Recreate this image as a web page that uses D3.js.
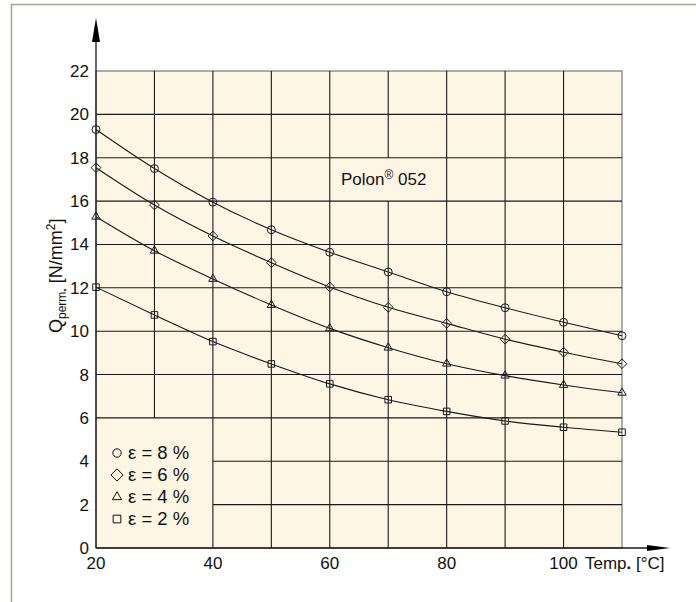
<!DOCTYPE html>
<html>
<head>
<meta charset="utf-8">
<script src="https://cdn.jsdelivr.net/npm/d3@7"></script>
<style>
  html, body { margin: 0; padding: 0; background: #fff; }
  svg { display: block; font-family: "Liberation Sans", Arial, sans-serif; }
</style>
</head>
<body>
<div id="root"><svg id="chart" width="696" height="602"></svg></div>
<script>
const temps = [20, 30, 40, 50, 60, 70, 80, 90, 100, 110];
const eps8 = [19.3, 17.5, 15.95, 14.68, 13.64, 12.73, 11.82, 11.08, 10.41, 9.79];
const eps6 = [17.54, 15.82, 14.39, 13.16, 12.04, 11.1, 10.36, 9.63, 9.03, 8.5];
const eps4 = [15.28, 13.71, 12.41, 11.21, 10.13, 9.24, 8.5, 7.95, 7.52, 7.16];
const eps2 = [12.03, 10.75, 9.52, 8.49, 7.57, 6.84, 6.3, 5.86, 5.57, 5.34];
const seriesNames = ['ε = 8 %', 'ε = 6 %', 'ε = 4 %', 'ε = 2 %'];
const xTicks = [20, 40, 60, 80, 100];
const yTicks = [0, 2, 4, 6, 8, 10, 12, 14, 16, 18, 20, 22];
const xGrid = [30, 40, 50, 60, 70, 80, 90, 100];
const yGrid = [2, 4, 6, 8, 10, 12, 14, 16, 18, 20];

function drawChart() {
  const svg = d3.select('#chart');
  const plotLeft = 96;
  const plotRight = 622;
  const plotTop = 71;
  const plotBottom = 548;
  const ink = '#1a1a1a';

  const x = d3.scaleLinear().domain([20, 110]).range([plotLeft, plotRight]);
  const y = d3.scaleLinear().domain([0, 22]).range([plotBottom, plotTop]);

  // outer frame (top + left only)
  svg.append('path')
    .attr('d', 'M11.5,602 V4.5 H696')
    .attr('fill', 'none')
    .attr('stroke', '#aaa195')
    .attr('stroke-width', 1.5);

  // plot background
  svg.append('rect')
    .attr('x', plotLeft).attr('y', plotTop)
    .attr('width', plotRight - plotLeft).attr('height', plotBottom - plotTop)
    .attr('fill', '#fef6e5')
    .attr('stroke', '#777')
    .attr('stroke-width', 1.2);

  // grid with the gaps for legend and label boxes
  const grid = svg.append('g').attr('stroke', ink).attr('stroke-width', 1.1);
  xGrid.forEach((v) => {
    let spans = [[0, 22]];
    if (v === 30) spans = [[6, 22]];
    if (v === 70) spans = [[0, 16], [18, 22]];
    spans.forEach(([a, b]) => {
      grid.append('line')
        .attr('x1', x(v)).attr('x2', x(v))
        .attr('y1', y(a)).attr('y2', y(b));
    });
  });
  yGrid.forEach((v) => {
    const from = v < 6 ? 40 : 20;
    grid.append('line')
      .attr('x1', x(from)).attr('x2', x(110))
      .attr('y1', y(v)).attr('y2', y(v));
  });

  // axes with arrows
  svg.append('line')
    .attr('x1', plotLeft).attr('x2', plotLeft)
    .attr('y1', plotBottom).attr('y2', 30)
    .attr('stroke', ink).attr('stroke-width', 1.3);
  svg.append('path')
    .attr('d', `M${plotLeft},18 L${plotLeft - 4},42 L${plotLeft + 4},42 Z`)
    .attr('fill', '#000');
  svg.append('line')
    .attr('x1', plotLeft).attr('x2', 655)
    .attr('y1', plotBottom).attr('y2', plotBottom)
    .attr('stroke', ink).attr('stroke-width', 1.3);
  svg.append('path')
    .attr('d', `M670,${plotBottom} L647,${plotBottom - 3} L647,${plotBottom + 3} Z`)
    .attr('fill', '#000');

  // tick labels
  svg.append('g')
    .selectAll('text')
    .data(yTicks)
    .join('text')
    .attr('x', 89)
    .attr('y', (d) => y(d) + 6)
    .attr('text-anchor', 'end')
    .attr('font-size', 17)
    .attr('fill', '#111')
    .text((d) => d);
  svg.append('g')
    .selectAll('text')
    .data(xTicks)
    .join('text')
    .attr('x', (d) => x(d))
    .attr('y', 569)
    .attr('text-anchor', 'middle')
    .attr('font-size', 17)
    .attr('fill', '#111')
    .text((d) => d);

  const xLabel = svg.append('text')
    .attr('x', 585).attr('y', 569)
    .attr('font-size', 17).attr('fill', '#111');
  xLabel.append('tspan').text('Temp');
  xLabel.append('tspan').attr('font-weight', 'bold').text('.');
  xLabel.append('tspan').text(' [°C]');

  const yLabel = svg.append('text')
    .attr('transform', 'translate(62,333) rotate(-90)')
    .attr('font-size', 18).attr('fill', '#111');
  yLabel.append('tspan').text('Q');
  yLabel.append('tspan').attr('font-size', 12).attr('dy', 4).text('perm');
  yLabel.append('tspan').attr('font-size', 12).attr('font-weight', 'bold').text('.');
  yLabel.append('tspan').attr('dy', -4).text(' [N/mm');
  yLabel.append('tspan').attr('font-size', 12).attr('dy', -7).text('2');
  yLabel.append('tspan').attr('dy', 7).text(']');

  // curves
  const allSeries = [eps8, eps6, eps4, eps2];
  const symbols = [d3.symbolCircle, d3.symbolDiamond2, d3.symbolTriangle2, d3.symbolSquare2];
  const symbolSizes = [50, 60, 50, 55];
  const line = d3.line()
    .x((d, i) => x(temps[i]))
    .y((d) => y(d))
    .curve(d3.curveMonotoneX);

  allSeries.forEach((values, k) => {
    svg.append('path')
      .attr('d', line(values))
      .attr('fill', 'none')
      .attr('stroke', ink)
      .attr('stroke-width', 1.1);
    svg.append('g')
      .selectAll('path')
      .data(values)
      .join('path')
      .attr('transform', (d, i) => `translate(${x(temps[i])},${y(d)})`)
      .attr('d', d3.symbol(symbols[k], symbolSizes[k]))
      .attr('fill', 'none')
      .attr('stroke', ink)
      .attr('stroke-width', 1);
  });

  // legend
  const legend = svg.append('g');
  seriesNames.forEach((name, k) => {
    const ly = 459 + k * 22;
    legend.append('path')
      .attr('transform', `translate(117,${ly - 6})`)
      .attr('d', d3.symbol(symbols[k], [55, 95, 60, 75][k]))
      .attr('fill', 'none')
      .attr('stroke', '#111')
      .attr('stroke-width', 1);
    legend.append('text')
      .attr('x', 128).attr('y', ly)
      .attr('font-size', 18.5).attr('fill', '#111')
      .text(name);
  });

  // product label
  const title = svg.append('text')
    .attr('x', 341).attr('y', 185)
    .attr('font-size', 17).attr('fill', '#111');
  title.append('tspan').text('Polon');
  title.append('tspan').attr('font-size', 12).attr('dy', -6).text('®');
  title.append('tspan').attr('dy', 6).text(' 052');
}

window.addEventListener('load', function() {
  drawChart();
});
</script>
</body>
</html>
